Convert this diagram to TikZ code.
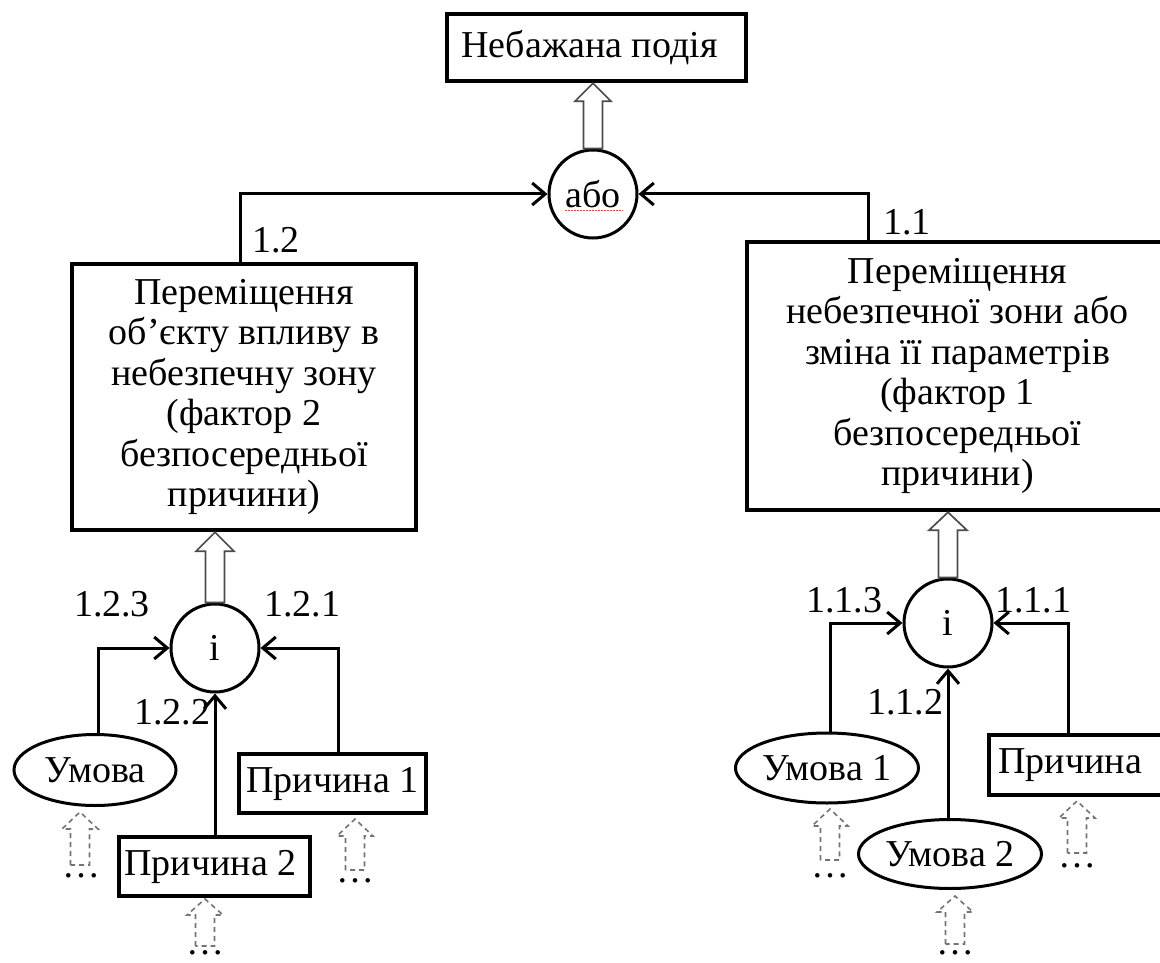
\documentclass[tikz,border=0pt]{standalone}
\usepackage{fontspec}
\setmainfont{Liberation Serif}
\usetikzlibrary{arrows.meta,calc,shapes.geometric}

% hollow block arrow: #1 style, #2 base point, #3 tip, #4 half shaft, #5 half head, #6 head length
\newcommand\fatarrow[6]{%
  \draw[#1] let \p1=(#2), \p2=(#3) in
    (\x1-#4,\y1) -- (\x1-#4,\y2-#6) -- (\x1-#5,\y2-#6) -- (\x1,\y2)
    -- (\x1+#5,\y2-#6) -- (\x1+#4,\y2-#6) -- (\x1+#4,\y1) -- cycle;}

\tikzset{
  every node/.style={font=\fontsize{38}{40.5}\selectfont},
  box/.style={draw, line width=4.5pt, inner sep=0pt, align=center},
  gate/.style={draw, circle, line width=3pt, minimum size=88pt, inner sep=0pt},
  cond/.style={draw, ellipse, line width=3pt, inner sep=0pt},
  link/.style={line width=3pt, -{Straight Barb[length=13pt,width=22pt]}},
  fat/.style={draw=black!70, line width=1.7pt, fill=white},
  fatdash/.style={draw=black!55, line width=1.6pt, dash pattern=on 5pt off 4pt},
  num/.style={inner sep=0pt},
  more/.style={inner sep=0pt, anchor=base},
}

\begin{document}
\begin{tikzpicture}[x=1pt, y=-1pt]
\useasboundingbox (0,0) rectangle (1160,963);
\clip (0,0) rectangle (1160,963);

% top event and the OR gate
\node[box, minimum width=299pt, minimum height=67pt] (top) at (596.5,47.5) {\hspace*{-14pt}Небажана подія};
\node[gate] (or) at (593,194) {або};
\draw[red!75!white, line width=1pt, dash pattern=on 1.5pt off 1.5pt]
  ([xshift=-28pt, yshift=-16pt]or.center) -- ++(58,0);

% the two immediate causes
\node[box, minimum width=344pt, minimum height=266pt] (lb) at (244,397)
  {Переміщення\\об’єкту впливу в\\небезпечну зону\\(фактор 2\\безпосередньої\\причини)};
\node[box, minimum width=421pt, minimum height=268pt] (rb) at (957.5,376)
  {Переміщення\\небезпечної зони або\\зміна її параметрів\\(фактор 1\\безпосередньої\\причини)};

\node[num] (l12) at (276,240) {1.2};
\node[num] (l11) at (907,222) {1.1};

\draw[link] ([xshift=-4pt]lb.north) |- (or.west);
\draw[link] ([xshift=-89.5pt]rb.north) |- (or.east);
\fatarrow{fat}{or.north}{top.south}{9.5pt}{18pt}{18pt}

% left AND gate and its inputs
\node[gate] (i2) at (215,648) {і};
\node[cond, minimum width=162pt, minimum height=71pt] (u) at (95,770) {Умова};
\node[box, minimum width=187pt, minimum height=59pt] (p1) at (332.5,783.5) {Причина 1};
\node[box, minimum width=191pt, minimum height=59pt] (p2) at (214.5,866.5) {\hspace*{-8pt}Причина 2};

\node[num] (l123) at (112,604) {1.2.3};
\node[num] (l121) at (302,604) {1.2.1};
\node[num] (l122) at (172,712) {1.2.2};

\draw[link] ([xshift=3pt]u.north) |- (i2.west);
\draw[link] ([xshift=5.5pt]p1.north) |- (i2.east);
\draw[link] (p2.north -| i2.south) -- (i2.south);
\fatarrow{fat}{i2.north}{lb.south}{9.5pt}{19pt}{19pt}

% right AND gate and its inputs
\node[gate] (i1) at (948,623) {і};
\node[cond, minimum width=164pt, minimum height=70pt] (u1) at (827,768) {Умова 1};
\node[cond, minimum width=162pt, minimum height=69pt] (u2) at (950,854) {Умова 2};
\node[box, minimum width=179pt, minimum height=60pt, text width=160pt, align=left] (pr) at (1078.5,765) {Причина};

\node[num] (l113) at (844,600) {1.1.3};
\node[num] (l111) at (1033,600) {1.1.1};
\node[num] (l112) at (905,702) {1.1.2};

\draw[link] ([xshift=3pt]u1.north) |- (i1.west);
\draw[link] ([xshift=-10.5pt]pr.north) |- (i1.east);
\draw[link] (u2.north -| i1.south) -- (i1.south);
\fatarrow{fat}{i1.north}{rb.south}{9.5pt}{19pt}{18pt}

% further, undeveloped inputs
\coordinate (du)  at (80,865);   \coordinate (tu)  at (80,812);
\coordinate (dp1) at (355,870);  \coordinate (tp1) at (355,819);
\coordinate (dp2) at (205,946);  \coordinate (tp2) at (205,899);
\coordinate (du1) at (830,860);  \coordinate (tu1) at (830,809);
\coordinate (dpr) at (1077,853); \coordinate (tpr) at (1077,801);
\coordinate (du2) at (955,944);  \coordinate (tu2) at (955,896);

\fatarrow{fatdash}{du}{tu}{9.5pt}{18pt}{17pt}
\fatarrow{fatdash}{dp1}{tp1}{9.5pt}{18pt}{17pt}
\fatarrow{fatdash}{dp2}{tp2}{9.5pt}{18pt}{16pt}
\fatarrow{fatdash}{du1}{tu1}{9.5pt}{18pt}{17pt}
\fatarrow{fatdash}{dpr}{tpr}{9.5pt}{18pt}{17pt}
\fatarrow{fatdash}{du2}{tu2}{9.5pt}{18pt}{16pt}

\node[more] (mu)  at (81,877)   {…};
\node[more] (mp1) at (355,882)  {…};
\node[more] (mp2) at (205,954)  {…};
\node[more] (mu1) at (830,877)  {…};
\node[more] (mpr) at (1077,867) {…};
\node[more] (mu2) at (955,954)  {…};
\end{tikzpicture}
\end{document}
